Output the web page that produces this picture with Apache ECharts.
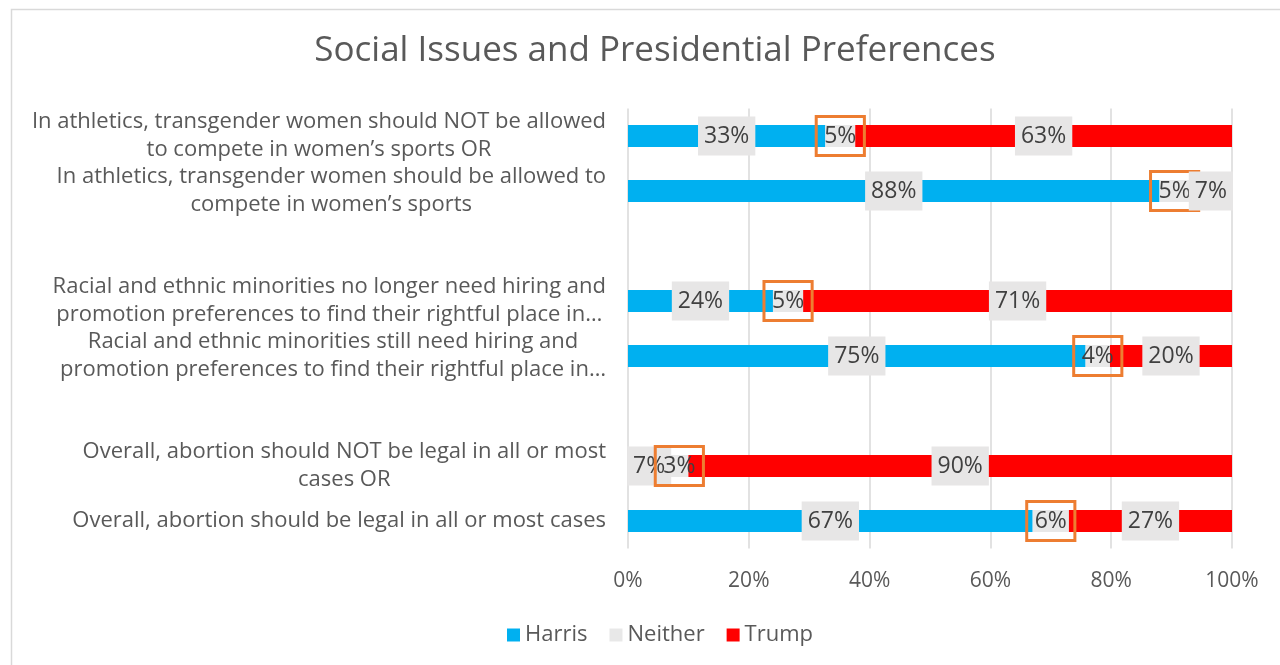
<!DOCTYPE html>
<html>
<head>
<meta charset="utf-8">
<script src="https://cdn.jsdelivr.net/npm/echarts@6/dist/echarts.min.js"></script>
<style>html,body{margin:0;padding:0;background:#fff}#c{width:1280px;height:665px}</style>
</head>
<body>
<div id="c"></div>
<script>
var categories = [
  ['In athletics, transgender women should NOT be allowed', 'to compete in women’s sports OR'],
  ['In athletics, transgender women should be allowed to', 'compete in women’s sports'],
  [' '],
  ['Racial and ethnic minorities no longer need hiring and', 'promotion preferences to find their rightful place in…'],
  ['Racial and ethnic minorities still need hiring and', 'promotion preferences to find their rightful place in…'],
  ['  '],
  ['Overall, abortion should NOT be legal in all or most', 'cases OR'],
  ['Overall, abortion should be legal in all or most cases']
];
var harris  = [33, 88, null, 24, 75, null, 7, 67];
var neither = [5, 5, null, 5, 4, null, 3, 6];
var trump   = [63, 7, null, 71, 20, null, 90, 27];
var seriesNames = ['Harris', 'Neither', 'Trump'];

var FONT = 'Open Sans';
var raw = [harris, neither, trump];
function share(si, i) {
  if (raw[si][i] == null) return null;
  var t = harris[i] + neither[i] + trump[i];
  return raw[si][i] / t * 100;
}
var colors = ['#00B0F0', '#E8E8E8', '#FF0000'];
var series = seriesNames.map(function (name, si) {
  var isNeither = si === 1;
  return {
    name: name,
    type: 'bar',
    stack: 'total',
    barWidth: 22,
    itemStyle: { color: colors[si] },
    data: categories.map(function (c, i) { return share(si, i); }),
    label: {
      show: true,
      position: 'inside',
      fontFamily: FONT,
      fontSize: 23,
      color: '#404040',
      backgroundColor: isNeither ? 'transparent' : '#E7E6E6',
      borderColor: isNeither ? '#ED7D31' : 'transparent',
      borderWidth: isNeither ? 1.5 : 0,
      padding: isNeither ? [8, 8] : [8, 6],
      formatter: function (p) { return raw[si][p.dataIndex] + '%'; }
    }
  };
});

var chart = echarts.init(document.getElementById('c'));
chart.setOption({
  animation: false,
  title: {
    text: 'Social Issues and Presidential Preferences',
    left: 650, top: 29, textAlign: 'center',
    textStyle: { fontFamily: FONT, fontSize: 35, fontWeight: 'normal', color: '#595959' }
  },
  legend: {
    data: seriesNames,
    left: 502, top: 619,
    icon: 'rect', itemWidth: 13, itemHeight: 13, itemGap: 22,
    textStyle: { fontFamily: FONT, fontSize: 22, color: '#595959' }
  },
  grid: { left: 628, right: 48, top: 108.5, bottom: 116.5, containLabel: false },
  xAxis: {
    type: 'value', min: 0, max: 100, interval: 20,
    axisLine: { show: false }, axisTick: { show: false },
    splitLine: { lineStyle: { color: '#D9D9D9', width: 1.5 } },
    axisLabel: { formatter: '{value}%', fontFamily: FONT, fontSize: 21, color: '#595959', margin: 22 }
  },
  yAxis: {
    type: 'category', inverse: true,
    data: categories.map(function (c) { return c.join('\n'); }),
    axisLine: { show: false }, axisTick: { show: false },
    axisLabel: {
      margin: 22,
      formatter: function (v) {
        return v.split('\n').map(function (l) { return '{c|' + l + '}'; }).join('\n');
      },
      rich: { c: { align: 'center', fontFamily: FONT, fontSize: 22, color: '#595959', lineHeight: 28 } }
    }
  },
  graphic: [{
    type: 'rect', shape: { x: 11.5, y: 9.5, width: 1400, height: 800 },
    style: { fill: 'none', stroke: '#D9D9D9', lineWidth: 1.5 }, silent: true
  }],
  series: series
});
</script>
</body>
</html>
